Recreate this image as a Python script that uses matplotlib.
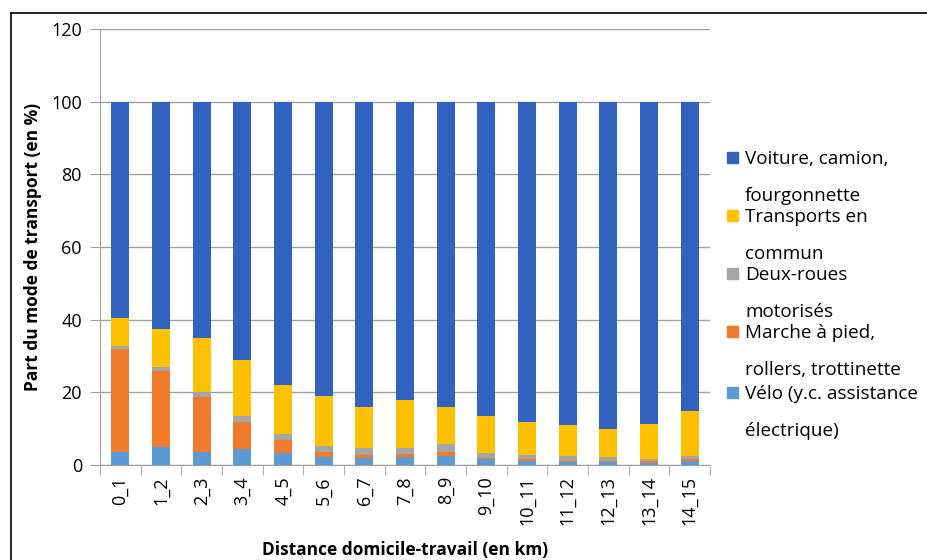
import matplotlib
matplotlib.use('Agg')
import matplotlib.pyplot as plt
import numpy as np
from matplotlib.lines import Line2D
from matplotlib.patches import Rectangle

plt.rcParams['font.family'] = ['Open Sans', 'DejaVu Sans']

categories = ['0_1', '1_2', '2_3', '3_4', '4_5', '5_6', '6_7', '7_8', '8_9', '9_10',
              '10_11', '11_12', '12_13', '13_14', '14_15']
velo = [3.7, 5.0, 3.7, 4.4, 3.3, 2.2, 1.9, 2.3, 2.5, 1.6, 1.1, 0.8, 0.8, 0.6, 1.1]
marche = [28.1, 20.9, 15.1, 7.5, 3.6, 1.4, 0.8, 0.7, 1.2, 0.4, 0.5, 0.3, 0.3, 0.5, 0.5]
deux_roues = [1.0, 1.0, 1.2, 1.6, 1.6, 1.6, 2.1, 1.8, 2.2, 1.3, 1.1, 1.4, 1.0, 0.5, 0.9]
tc = [7.6, 10.4, 14.9, 15.3, 13.4, 13.7, 11.3, 13.1, 10.2, 10.2, 9.0, 8.4, 7.7, 9.7, 12.5]
voiture = [100 - a - b - c - d for a, b, c, d in zip(velo, marche, deux_roues, tc)]

series = [
    (['Vélo (y.c. assistance', 'électrique)'], velo, '#5B9BD5'),
    (['Marche à pied,', 'rollers, trottinette'], marche, '#F07B2C'),
    (['Deux-roues', 'motorisés'], deux_roues, '#A5A5A5'),
    (['Transports en', 'commun'], tc, '#FFC000'),
    (['Voiture, camion,', 'fourgonnette'], voiture, '#3262C0'),
]

fig = plt.figure(figsize=(9.28, 5.6), dpi=100)
ax = fig.add_axes([100/928, 1 - 465/560, 610/928, 436/560])

x = np.arange(len(categories))
bottom = np.zeros(len(categories))
for label, vals, col in series:
    ax.bar(x, vals, 0.45, bottom=bottom, color=col, zorder=3)
    bottom += np.array(vals)

ax.set_xlim(-0.5, len(categories) - 0.5)
ax.set_ylim(0, 120)
ax.set_yticks(range(0, 121, 20))
ax.tick_params(axis='y', labelsize=13, length=7, color='#A0A0A0', pad=6)
ax.set_xticks(x)
ax.set_xticklabels(categories, rotation=90, fontsize=13)
ax.tick_params(axis='x', length=0, pad=8)
ax.set_xticks(np.arange(-0.5, len(categories), 1), minor=True)
ax.tick_params(axis='x', which='minor', length=7, color='#A0A0A0')
ax.grid(axis='y', color='#A0A0A0', linewidth=1, zorder=0)
for s in ['top', 'right']:
    ax.spines[s].set_visible(False)
ax.spines['left'].set_color('#A0A0A0')
ax.spines['bottom'].set_color('#A0A0A0')

fig.text(33/928, 1 - 247/560, 'Part du mode de transport (en %)', rotation=90,
         ha='center', va='center', fontsize=12.5, fontweight='bold')
fig.text(405/928, 1 - 550/560, 'Distance domicile-travail (en km)',
         ha='center', va='center', fontsize=12.5, fontweight='bold')

# legende a droite, chaque libelle sur deux lignes tres espacees
tops = [157, 215, 273, 331, 392]
for (lines, vals, col), ty in zip(series[::-1], tops):
    fig.patches.append(Rectangle((727/928, 1 - (ty + 6)/560), 11/928, 11/560,
                                 transform=fig.transFigure, color=col))
    for k, line in enumerate(lines):
        fig.text(745/928, 1 - (ty + 37 * k)/560, line, fontsize=13.6,
                 va='center_baseline')

# cadre
fig.add_artist(Line2D([11/928, 1], [1 - 13/560, 1 - 13/560], color='black', lw=1.2,
                      transform=fig.transFigure))
fig.add_artist(Line2D([11/928, 11/928], [0, 1 - 13/560], color='black', lw=1.2,
                      transform=fig.transFigure))

fig.savefig('out.png', dpi=100)
